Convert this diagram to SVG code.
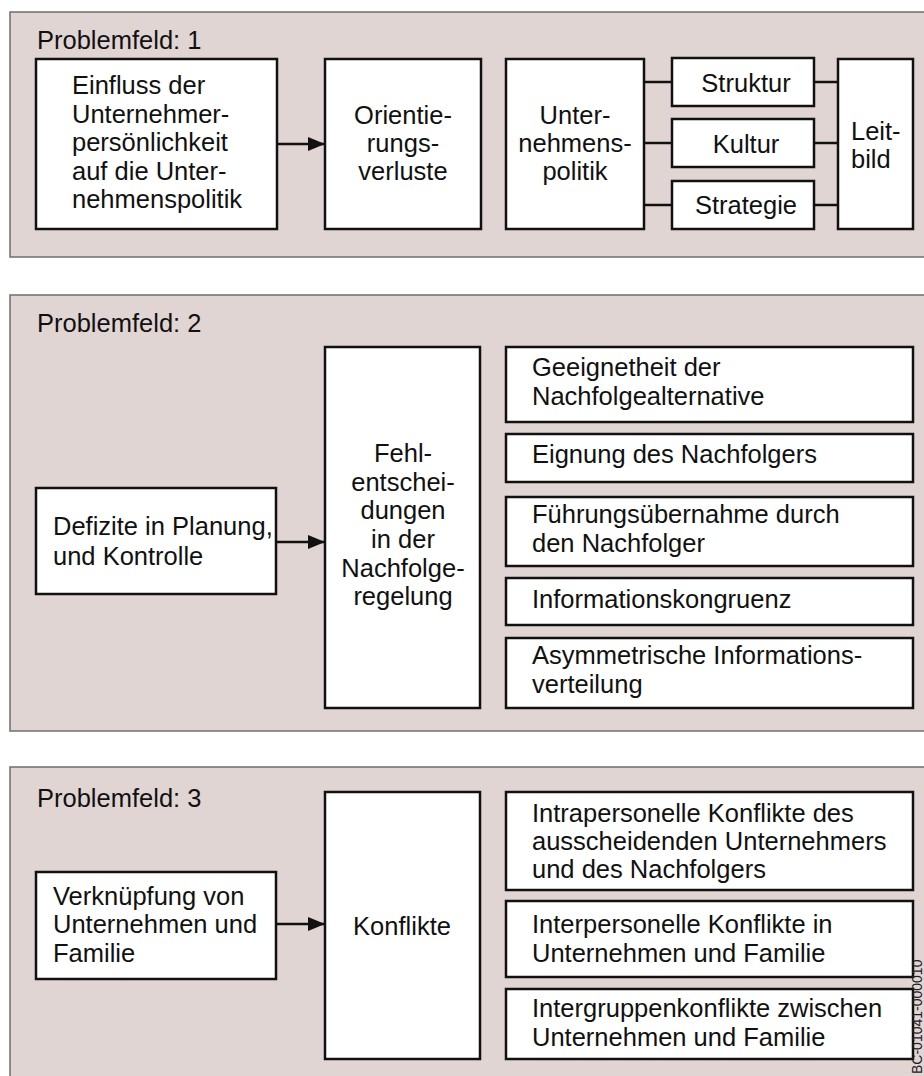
<svg xmlns="http://www.w3.org/2000/svg" width="924" height="1076" viewBox="0 0 924 1076">
<style>
.panel{fill:#e1d5d4;stroke:#6e6e6e;stroke-width:1.5}
.box{fill:#fff;stroke:#111;stroke-width:2.5}
.t{font-family:"Liberation Sans",Arial,sans-serif;font-size:25.5px;fill:#111}
.c{text-anchor:middle}
.con{stroke:#111;stroke-width:2.5;fill:none}
</style>
<defs>
<marker id="ah" markerWidth="17" markerHeight="14" refX="17" refY="7" orient="auto" markerUnits="userSpaceOnUse">
<path d="M0,0 L17,7 L0,14 Z" fill="#111"/>
</marker>
</defs>
<rect width="924" height="1076" fill="#fff"/>
<g id="panel1">
<rect class="panel" x="10" y="12" width="930" height="245"/>
<text class="t" x="37" y="49">Problemfeld: 1</text>
</g>
<g id="panel2">
<rect class="panel" x="10" y="295" width="930" height="436"/>
<text class="t" x="37" y="332">Problemfeld: 2</text>
</g>
<g id="panel3">
<rect class="panel" x="10" y="767" width="930" height="330"/>
<text class="t" x="37" y="807">Problemfeld: 3</text>
</g>
<g id="connectors">
<line class="con" x1="277" y1="144" x2="325" y2="144" marker-end="url(#ah)"/>
<line class="con" x1="644" y1="82" x2="672" y2="82"/>
<line class="con" x1="644" y1="143" x2="672" y2="143"/>
<line class="con" x1="644" y1="205" x2="672" y2="205"/>
<line class="con" x1="814" y1="82" x2="838" y2="82"/>
<line class="con" x1="814" y1="143" x2="838" y2="143"/>
<line class="con" x1="814" y1="205" x2="838" y2="205"/>
<line class="con" x1="276" y1="542" x2="325" y2="542" marker-end="url(#ah)"/>
<line class="con" x1="276" y1="924" x2="325" y2="924" marker-end="url(#ah)"/>
</g>
<g id="einfluss">
<rect class="box" x="36" y="59" width="241" height="170"/>
<text class="t" x="72" y="94">Einfluss der</text>
<text class="t" x="72" y="123">Unternehmer-</text>
<text class="t" x="72" y="151">persönlichkeit</text>
<text class="t" x="72" y="180">auf die Unter-</text>
<text class="t" x="72" y="208">nehmenspolitik</text>
</g>
<g id="orientierung">
<rect class="box" x="325" y="59" width="156" height="170"/>
<text class="t c" x="403" y="124">Orientie-</text>
<text class="t c" x="403" y="152">rungs-</text>
<text class="t c" x="403" y="180">verluste</text>
</g>
<g id="unternehmenspolitik">
<rect class="box" x="506" y="59" width="138" height="170"/>
<text class="t c" x="575" y="124">Unter-</text>
<text class="t c" x="575" y="152">nehmens-</text>
<text class="t c" x="575" y="180">politik</text>
</g>
<g id="struktur">
<rect class="box" x="672" y="58" width="142" height="48"/>
<text class="t c" x="746" y="92">Struktur</text>
</g>
<g id="kultur">
<rect class="box" x="672" y="119" width="142" height="48"/>
<text class="t c" x="746" y="153">Kultur</text>
</g>
<g id="strategie">
<rect class="box" x="672" y="181" width="142" height="48"/>
<text class="t c" x="746" y="214">Strategie</text>
</g>
<g id="leitbild">
<rect class="box" x="838" y="59" width="75" height="170"/>
<text class="t" x="851" y="140">Leit-</text>
<text class="t" x="851" y="168">bild</text>
</g>
<g id="defizite">
<rect class="box" x="36" y="488" width="240" height="106"/>
<text class="t" x="53" y="535">Defizite in Planung,</text>
<text class="t" x="53" y="565">und Kontrolle</text>
</g>
<g id="fehlentscheidungen">
<rect class="box" x="325" y="347" width="155" height="361"/>
<text class="t c" x="403" y="462">Fehl-</text>
<text class="t c" x="403" y="491">entschei-</text>
<text class="t c" x="403" y="519">dungen</text>
<text class="t c" x="403" y="548">in der</text>
<text class="t c" x="403" y="577">Nachfolge-</text>
<text class="t c" x="403" y="605">regelung</text>
</g>
<g id="geeignetheit">
<rect class="box" x="506" y="347" width="407" height="75"/>
<text class="t" x="532" y="376">Geeignetheit der</text>
<text class="t" x="532" y="405">Nachfolgealternative</text>
</g>
<g id="eignung">
<rect class="box" x="506" y="434" width="407" height="48"/>
<text class="t" x="532" y="463">Eignung des Nachfolgers</text>
</g>
<g id="fuehrung">
<rect class="box" x="506" y="497" width="407" height="69"/>
<text class="t" x="532" y="523">Führungsübernahme durch</text>
<text class="t" x="532" y="552">den Nachfolger</text>
</g>
<g id="kongruenz">
<rect class="box" x="506" y="578" width="407" height="47"/>
<text class="t" x="532" y="608">Informationskongruenz</text>
</g>
<g id="asymmetrisch">
<rect class="box" x="506" y="638" width="407" height="70"/>
<text class="t" x="532" y="664">Asymmetrische Informations-</text>
<text class="t" x="532" y="693">verteilung</text>
</g>
<g id="verknuepfung">
<rect class="box" x="36" y="872" width="240" height="107"/>
<text class="t" x="53" y="905">Verknüpfung von</text>
<text class="t" x="53" y="933">Unternehmen und</text>
<text class="t" x="53" y="962">Familie</text>
</g>
<g id="konflikte">
<rect class="box" x="325" y="792" width="155" height="267"/>
<text class="t c" x="402" y="935">Konflikte</text>
</g>
<g id="intra">
<rect class="box" x="506" y="792" width="407" height="98"/>
<text class="t" x="532" y="822">Intrapersonelle Konflikte des</text>
<text class="t" x="532" y="850">ausscheidenden Unternehmers</text>
<text class="t" x="532" y="878">und des Nachfolgers</text>
</g>
<g id="inter">
<rect class="box" x="506" y="901" width="407" height="76"/>
<text class="t" x="532" y="933">Interpersonelle Konflikte in</text>
<text class="t" x="532" y="962">Unternehmen und Familie</text>
</g>
<g id="intergruppen">
<rect class="box" x="506" y="989" width="407" height="70"/>
<text class="t" x="532" y="1017">Intergruppenkonflikte zwischen</text>
<text class="t" x="532" y="1046">Unternehmen und Familie</text>
</g>
<text transform="translate(922,1074) rotate(-90)" font-family="Liberation Sans, Arial, sans-serif" font-size="14" fill="#222">BC-01041-000010</text>
</svg>
